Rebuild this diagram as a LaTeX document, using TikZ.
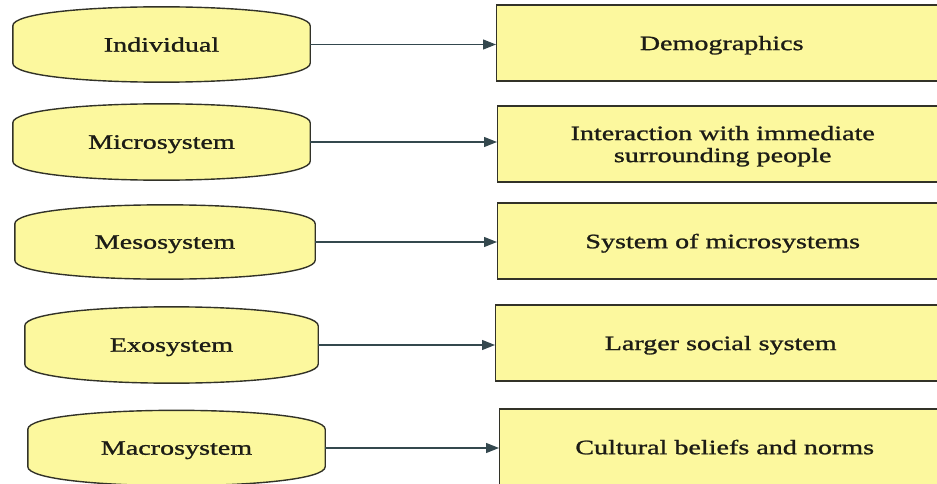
\documentclass[tikz,border=0pt]{standalone}
\usepackage{fontspec}
\newfontfamily\labelfont{Liberation Serif}[FakeStretch=1.37, RawFeature={embolden=1.2}]
\usetikzlibrary{arrows.meta,backgrounds}

\definecolor{boxfill}{RGB}{252,248,158}
\definecolor{boxline}{RGB}{50,50,40}
\definecolor{arrowline}{RGB}{52,72,78}
\definecolor{labeltext}{RGB}{28,28,22}

\tikzset{
  level/.style={inner sep=0pt, text=labeltext, text depth=0pt,
    font=\labelfont\fontsize{20.5}{22}\selectfont},
  effect/.style={level, draw=boxline, fill=boxfill, line width=1.4pt,
    anchor=west, minimum width=450pt, minimum height=76pt, align=center},
  capsuleline/.style={draw=boxline, fill=boxfill, line width=1.4pt},
  link/.style={draw=arrowline, line width=1.3pt,
    -{Triangle[length=13pt,width=10pt]}}
}

% outline with bulging top and bottom edges around a named node
\newcommand\capsuleoutline[1]{%
  \path[capsuleline]
    ([yshift=-19pt]#1.north west)
      .. controls ([yshift=6.3pt]#1.north west) and ([yshift=6.3pt]#1.north east)
      .. ([yshift=-19pt]#1.north east)
    -- ([yshift=19pt]#1.south east)
      .. controls ([yshift=-6.3pt]#1.south east) and ([yshift=-6.3pt]#1.south west)
      .. ([yshift=19pt]#1.south west)
    -- cycle;}

\begin{document}
\begin{tikzpicture}[x=1pt,y=-1pt]
  \useasboundingbox (0,0) rectangle (937,484);
  \clip (0,0) rectangle (937,484);

  % system levels
  \node[level, minimum width=297pt, minimum height=75pt] (ind)   at (161.5,44.5) {Individual};
  \node[level, minimum width=297pt, minimum height=76pt] (micro) at (161.5,142)  {Microsystem};
  \node[level, minimum width=300pt, minimum height=74pt] (meso)  at (165,242)    {Mesosystem};
  \node[level, minimum width=293pt, minimum height=76pt] (exo)   at (171.5,345)  {Exosystem};
  \node[level, minimum width=297pt, minimum height=75pt] (macro) at (176.5,448)  {Macrosystem};

  \begin{scope}[on background layer]
    \capsuleoutline{ind}
    \capsuleoutline{micro}
    \capsuleoutline{meso}
    \capsuleoutline{exo}
    \capsuleoutline{macro}
  \end{scope}

  % descriptions
  \node[effect] (demo)   at (496,43)  {Demographics};
  \node[effect] (inter)  at (497,144) {Interaction with immediate\\surrounding people};
  \node[effect] (sysmic) at (497,241) {System of microsystems};
  \node[effect] (social) at (495,343) {Larger social system};
  \node[effect] (cult)   at (499,447) {Cultural beliefs and norms};

  % connectors
  \draw[link] (ind.east)   -- (ind.east -| demo.west);
  \draw[link] (micro.east) -- (micro.east -| inter.west);
  \draw[link] (meso.east)  -- (meso.east -| sysmic.west);
  \draw[link] (exo.east)   -- (exo.east -| social.west);
  \draw[link] (macro.east) -- (macro.east -| cult.west);
\end{tikzpicture}
\end{document}
